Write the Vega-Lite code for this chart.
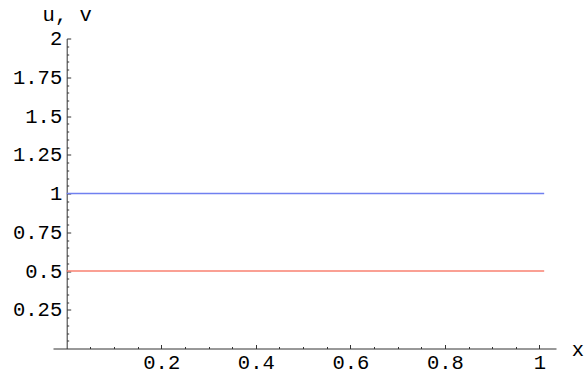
{
  "$schema": "https://vega.github.io/schema/vega-lite/v6.json",
  "autosize": {"type": "none"},
  "padding": {"left": 53, "top": 38.5, "right": 29, "bottom": 29.5},
  "width": 503,
  "height": 310,
  "background": "white",
  "config": {
    "view": {"stroke": null},
    "axis": {
      "labelFont": "Liberation Mono",
      "titleFont": "Liberation Mono",
      "labelFontSize": 20.5,
      "titleFontSize": 20.5,
      "labelColor": "#000000",
      "titleColor": "#000000",
      "titleFontWeight": "normal",
      "domainColor": "#333333",
      "domainWidth": 1,
      "tickColor": "#333333",
      "tickWidth": 1,
      "grid": false
    }
  },
  "data": {
    "values": [
      {"x": 0, "y": 1, "s": "u"},
      {"x": 1.01, "y": 1, "s": "u"},
      {"x": 0, "y": 0.5, "s": "v"},
      {"x": 1.01, "y": 0.5, "s": "v"}
    ]
  },
  "mark": {"type": "line", "strokeWidth": 1.4, "clip": false},
  "encoding": {
    "x": {
      "field": "x",
      "type": "quantitative",
      "scale": {"domain": [-0.029, 1.035], "nice": false, "zero": false},
      "axis": {
        "title": "x",
        "titleAngle": 0,
        "titleAlign": "center",
        "titleBaseline": "alphabetic",
        "titleX": 524.5,
        "titleY": 7,
        "values": [0.05,0.1,0.15,0.2,0.25,0.3,0.35,0.4,0.45,0.5,0.55,0.6,0.65,0.7,0.75,0.8,0.85,0.9,0.95,1],
        "labelExpr": "abs(datum.value*5 - round(datum.value*5)) < 0.001 ? '' + datum.value : ''",
        "tickSize": {"condition": {"test": "abs(datum.value*5 - round(datum.value*5)) < 0.001", "value": -4}, "value": -2},
        "labelPadding": 8,
        "labelFlush": false,
        "labelOverlap": false,
        "labelBaseline": "top"
      }
    },
    "y": {
      "field": "y",
      "type": "quantitative",
      "scale": {"domain": [0, 2], "nice": false},
      "axis": {
        "title": "u, v",
        "offset": -13.7,
        "titleAngle": 0,
        "titleAlign": "center",
        "titleBaseline": "alphabetic",
        "titleX": 0,
        "titleY": -18.5,
        "values": [0.05,0.1,0.15,0.2,0.25,0.3,0.35,0.4,0.45,0.5,0.55,0.6,0.65,0.7,0.75,0.8,0.85,0.9,0.95,1,1.05,1.1,1.15,1.2,1.25,1.3,1.35,1.4,1.45,1.5,1.55,1.6,1.65,1.7,1.75,1.8,1.85,1.9,1.95,2],
        "labelExpr": "abs(datum.value*4 - round(datum.value*4)) < 0.001 ? '' + datum.value : ''",
        "tickSize": {"condition": {"test": "abs(datum.value*4 - round(datum.value*4)) < 0.001", "value": -4}, "value": -2},
        "labelPadding": 9,
        "labelFlush": false,
        "labelOverlap": false,
        "labelBaseline": "middle"
      }
    },
    "color": {
      "field": "s",
      "type": "nominal",
      "scale": {"domain": ["u", "v"], "range": ["#7080f0", "#f88070"]},
      "legend": null
    }
  }
}
